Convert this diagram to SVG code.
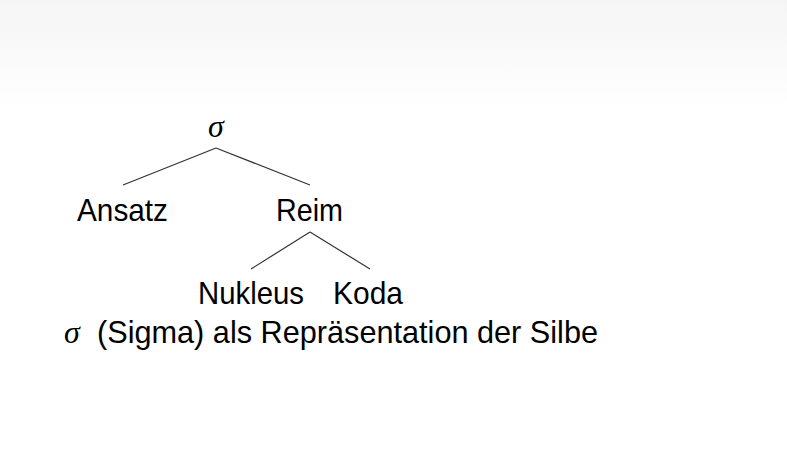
<svg xmlns="http://www.w3.org/2000/svg" width="787" height="472" viewBox="0 0 787 472">
<defs>
<linearGradient id="bg" x1="0" y1="0" x2="0" y2="1">
<stop offset="0" stop-color="#f5f5f5"/>
<stop offset="1" stop-color="#ffffff"/>
</linearGradient>
<style>
.t{font-family:"Liberation Sans","DejaVu Sans",sans-serif;font-size:32px;fill:#000}
.m{font-family:"Liberation Serif","DejaVu Serif",serif;font-style:italic;font-size:32px;fill:#000}
.e{stroke:#333;stroke-width:1.2;fill:none}
</style>
</defs>
<rect width="787" height="472" fill="#fff"/>
<rect width="787" height="110" fill="url(#bg)"/>
<g id="connectors">
<line class="e" x1="216" y1="148" x2="123" y2="185"/>
<line class="e" x1="216" y1="148" x2="310" y2="185"/>
<line class="e" x1="310" y1="232" x2="251" y2="269"/>
<line class="e" x1="310" y1="232" x2="370" y2="269"/>
</g>
<g id="sigma"><text class="m" x="216" y="137" text-anchor="middle">σ</text></g>
<g id="ansatz"><text class="t" x="77" y="221" textLength="91" lengthAdjust="spacingAndGlyphs">Ansatz</text></g>
<g id="reim"><text class="t" x="276" y="221" textLength="67" lengthAdjust="spacingAndGlyphs">Reim</text></g>
<g id="nukleus"><text class="t" x="198" y="304" textLength="106" lengthAdjust="spacingAndGlyphs">Nukleus</text></g>
<g id="koda"><text class="t" x="333" y="304" textLength="70" lengthAdjust="spacingAndGlyphs">Koda</text></g>
<g id="caption"><text x="64" y="343"><tspan class="m">σ</tspan><tspan class="t" x="97" textLength="501" lengthAdjust="spacingAndGlyphs">(Sigma) als Repräsentation der Silbe</tspan></text></g>
</svg>
